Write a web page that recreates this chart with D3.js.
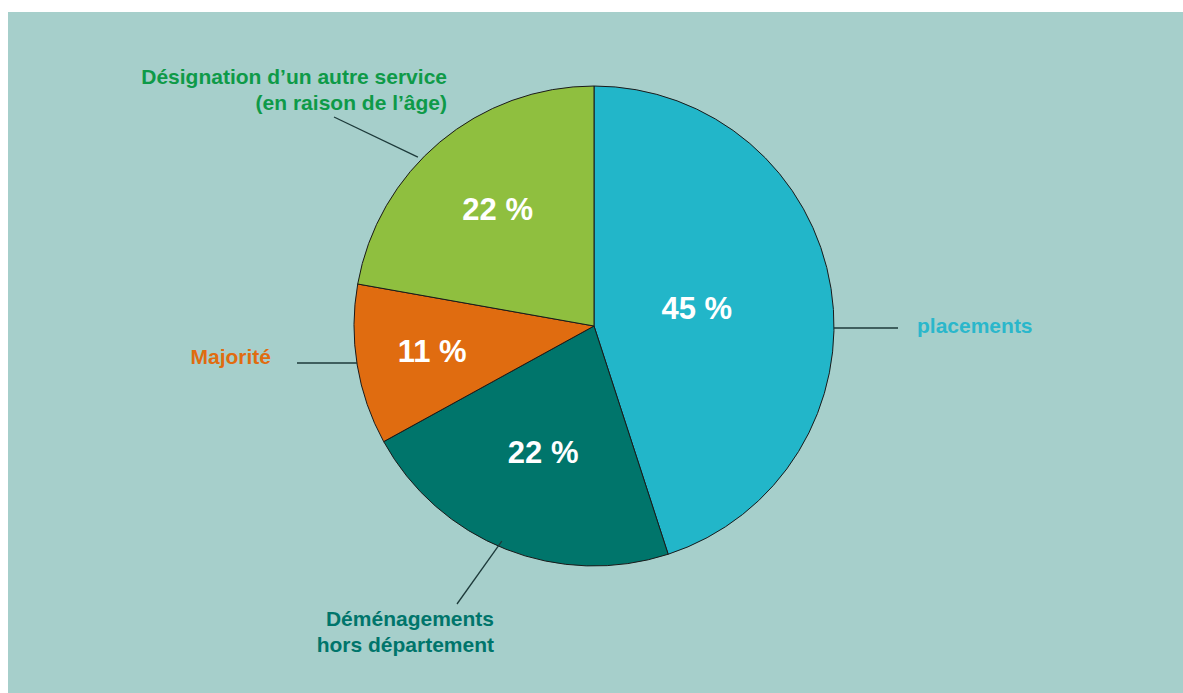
<!DOCTYPE html>
<html>
<head>
<meta charset="utf-8">
<script src="https://cdn.jsdelivr.net/npm/d3@7"></script>
<style>
  body { margin: 0; background: #fff; }
  svg text { font-family: "Liberation Sans", Arial, sans-serif; font-weight: bold; }
</style>
</head>
<body>
<svg width="1183" height="693"></svg>
<script>
const categories = ["placements", "Déménagements hors département", "Majorité", "Désignation d’un autre service (en raison de l’âge)"];
const values = [45, 22, 10.8, 22.2];
const valueLabels = ["45 %", "22 %", "11 %", "22 %"];
const labelLines = [["placements"], ["Déménagements", "hors département"], ["Majorité"], ["Désignation d’un autre service", "(en raison de l’âge)"]];
const colors = ["#22b6c9", "#00756b", "#e06c10", "#8fbf3f"];
const textColors = ["#2ab7cb", "#00756b", "#e06c10", "#0e9a48"];

const svg = d3.select("svg"),
      width = +svg.attr("width"),
      height = +svg.attr("height");

svg.append("rect")
  .attr("x", 8).attr("y", 12)
  .attr("width", width - 8).attr("height", height - 12)
  .attr("fill", "#a6cfcb");

const cx = 594, cy = 326, r = 240;

const pie = d3.pie().sort(null)(values);
const arc = d3.arc().innerRadius(0).outerRadius(r);

const g = svg.append("g").attr("transform", `translate(${cx},${cy})`);

g.selectAll("path")
  .data(pie)
  .enter().append("path")
  .attr("d", arc)
  .attr("fill", (d, i) => colors[i])
  .attr("stroke", "#1a1a1a")
  .attr("stroke-width", 1);

// value labels inside slices (distance from centre differs per slice)
const labelRadius = [104, 138, 164, 150];
g.selectAll("text.val")
  .data(pie)
  .enter().append("text")
  .attr("class", "val")
  .attr("transform", (d, i) => {
    const a = (d.startAngle + d.endAngle) / 2;
    return `translate(${labelRadius[i] * Math.sin(a)},${-labelRadius[i] * Math.cos(a) + 9})`;
  })
  .attr("text-anchor", "middle")
  .attr("fill", "#fff")
  .attr("font-size", 31)
  .text((d, i) => valueLabels[i]);

// leader lines and outer labels
const leaders = [
  { a: 90.5, r0: 240, x2: 898 - cx, y2: 328 - cy, tx: 917 - cx, ty: 333 - cy, anchor: "start", flat: true },
  { a: 203.2, r0: 234, x2: 457 - cx, y2: 604 - cy, tx: 494 - cx, ty: 626 - cy, anchor: "end" },
  { a: 261, r0: 240, x2: 297 - cx, y2: 363 - cy, tx: 271 - cx, ty: 364 - cy, anchor: "end", flat: true },
  { a: 313.8, r0: 244, x2: 334 - cx, y2: 117 - cy, tx: 447 - cx, ty: 84 - cy, anchor: "end" }
];

leaders.forEach((l, i) => {
  const rad = l.a * Math.PI / 180;
  const x1 = l.r0 * Math.sin(rad), y1 = -l.r0 * Math.cos(rad);
  g.append("line")
    .attr("x1", x1).attr("y1", l.flat ? l.y2 : y1)
    .attr("x2", l.x2).attr("y2", l.y2)
    .attr("stroke", "#1d3a3a")
    .attr("stroke-width", 1.3);

  const t = g.append("text")
    .attr("x", l.tx).attr("y", l.ty)
    .attr("text-anchor", l.anchor)
    .attr("fill", textColors[i])
    .attr("font-size", 21);
  labelLines[i].forEach((line, j) => {
    t.append("tspan").attr("x", l.tx).attr("dy", j === 0 ? 0 : 26).text(line);
  });
});
</script>
</body>
</html>
